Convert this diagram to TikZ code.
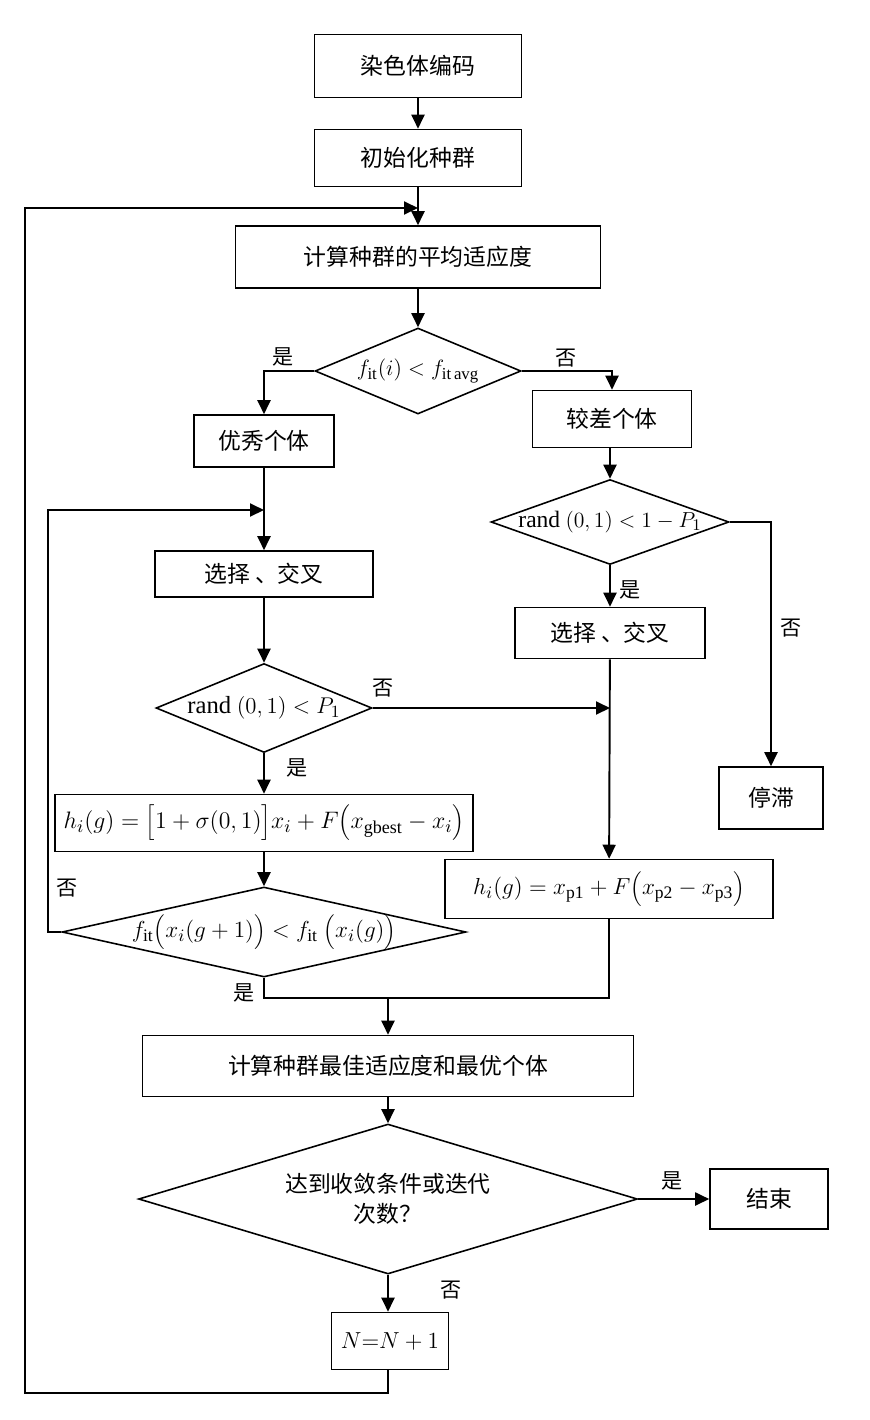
\documentclass[tikz,border=0pt]{standalone}
\usepackage{graphicx}
\usepackage{fontspec}
\setmainfont{Liberation Serif}
\newfontfamily\cjk{Noto Sans CJK SC}
\usetikzlibrary{shapes.geometric,arrows.meta}

\begin{document}
\begin{tikzpicture}[x=0.02cm, y=-0.02cm]
    \tikzstyle{box} = [draw, line width=0.9pt, rectangle, inner sep=0pt, font=\cjk\fontsize{13}{15}\selectfont]
    \tikzstyle{dia} = [draw, line width=0.9pt, diamond, inner sep=0pt]
    \tikzstyle{txt} = [inner sep=0pt, font=\cjk\fontsize{13}{17}\selectfont, align=center]
    \tikzstyle{lbl} = [inner sep=0pt, font=\cjk\fontsize{12}{14}\selectfont]
    \tikzstyle{arr} = [line width=1.1pt, -{Triangle[length=2.8mm, width=2.6mm]}]
    \tikzstyle{ln} = [line width=1.1pt]
    \useasboundingbox (0, 0) rectangle (869, 1420);
    % main column
    \node (b1) at (418, 66) [box, minimum width=4.14cm, minimum height=1.26cm] {染色体编码};
    \node (b2) at (418, 158) [box, minimum width=4.14cm, minimum height=1.14cm] {初始化种群};
    \node (b3) at (418, 257) [box, minimum width=7.3cm, minimum height=1.24cm] {计算种群的平均适应度};
    \node (d1) at (418, 371) [dia, minimum width=4.12cm, minimum height=1.72cm] {};
    \node (t1) at (d1) [txt] {\scalebox{1.05}{$f_{\mathrm{it}}\big(i\big) < f_{\mathrm{it\,avg}}$}};
    % left column
    \node (b4) at (264, 441) [box, minimum width=2.8cm, minimum height=1.04cm] {优秀个体};
    \node (b6) at (264, 574) [box, minimum width=4.36cm, minimum height=0.92cm] {选择 、交叉};
    \node (d3) at (264, 708) [dia, minimum width=4.32cm, minimum height=1.78cm] {};
    \node (t3) at (d3) [txt] {\scalebox{1.08}{$\mathrm{rand}\ \big(0,1\big) < P_1$}};
    \node (b8) at (264, 823) [box, minimum width=8.36cm, minimum height=1.14cm] {\scalebox{1.13}{$h_i\big(g\big)=\Big[1+\sigma\big(0,1\big)\Big]x_i+F\Big(x_{\mathrm{gbest}}-x_i\Big)$}};
    \node (d4) at (264, 932) [dia, minimum width=8.08cm, minimum height=1.8cm] {};
    \node (t4) at (d4) [txt] {\scalebox{1.1}{$f_{\mathrm{it}}\Big(x_i\big(g+1\big)\Big) < f_{\mathrm{it}}\ \Big(x_i\big(g\big)\Big)$}};
    % right column
    \node (b5) at (612, 419) [box, minimum width=3.18cm, minimum height=1.14cm] {较差个体};
    \node (d2) at (610, 522) [dia, minimum width=4.76cm, minimum height=1.7cm] {};
    \node (t2) at (d2) [txt] {\scalebox{1.03}{$\mathrm{rand}\ \big(0,1\big) < 1-P_1$}};
    \node (b7) at (610, 633) [box, minimum width=3.8cm, minimum height=1.02cm] {选择 、交叉};
    \node (b9) at (609, 889) [box, minimum width=6.56cm, minimum height=1.18cm] {\scalebox{1.1}{$h_i\big(g\big)=x_{\mathrm{p1}}+F\Big(x_{\mathrm{p2}}-x_{\mathrm{p3}}\Big)$}};
    \node (b10) at (771, 798) [box, minimum width=2.08cm, minimum height=1.24cm] {停滞};
    % bottom
    \node (b11) at (388, 1066) [box, minimum width=9.82cm, minimum height=1.22cm] {计算种群最佳适应度和最优个体};
    \node (d5) at (388, 1199) [dia, minimum width=9.98cm, minimum height=3cm] {};
    \node (t5) at (d5) [txt] {达到收敛条件或迭代\\次数？};
    \node (b12) at (769, 1199) [box, minimum width=2.36cm, minimum height=1.2cm] {结束};
    \node (b13) at (390, 1341) [box, minimum width=2.34cm, minimum height=1.14cm] {\scalebox{1.1}{$N{=}N+1$}};
    % junctions
    \coordinate (j1) at (610, 708);
    \coordinate (j2) at (264, 510);
    \coordinate (j3) at (388, 998);
    \coordinate (j4) at (418, 208);
    \coordinate (lp) at (48, 510);
    \coordinate (lb) at (25, 1393);
    % connectors
    \draw[arr] (b1) -- (b2);
    \draw[arr] (b2) -- (b3);
    \draw[arr] (b3) -- (d1);
    \draw[arr] (d1.west) -| (b4.north);
    \draw[arr] (d1.east) -| (b5.north);
    \draw[arr] (b4) -- (b6);
    \draw[arr] (b6) -- (d3);
    \draw[arr] (d3) -- (b8);
    \draw[arr] (b8) -- (d4);
    \draw[arr] (d3.east) -- (j1);
    \draw[arr] (b5.south -| d2.north) -- (d2);
    \draw[arr] (d2) -- (b7);
    \draw[arr] (b7) -- (b9);
    \draw[arr] (d2.east) -| (b10.north);
    \draw[arr] (d4.west) -| (lp) -- (j2);
    \draw[ln] (d4.south) |- (b9.south |- j3) -- (b9.south);
    \draw[arr] (j3) -- (b11);
    \draw[arr] (b11) -- (d5);
    \draw[arr] (d5.east) -- (b12);
    \draw[arr] (d5.south) -- (b13.north -| d5.south);
    \draw[arr] (b13.south -| d5.south) |- (lb) |- (j4);
    % labels
    \node (y1) at (283, 357) [lbl] {是};
    \node (n1) at (566, 358) [lbl] {否};
    \node (n3) at (383, 688) [lbl] {否};
    \node (y3) at (297, 768) [lbl] {是};
    \node (y2) at (630, 590) [lbl] {是};
    \node (n2) at (791, 628) [lbl] {否};
    \node (n4) at (67, 888) [lbl] {否};
    \node (y4) at (244, 993) [lbl] {是};
    \node (y5) at (672, 1181) [lbl] {是};
    \node (n5) at (451, 1290) [lbl] {否};
\end{tikzpicture}
\end{document}
